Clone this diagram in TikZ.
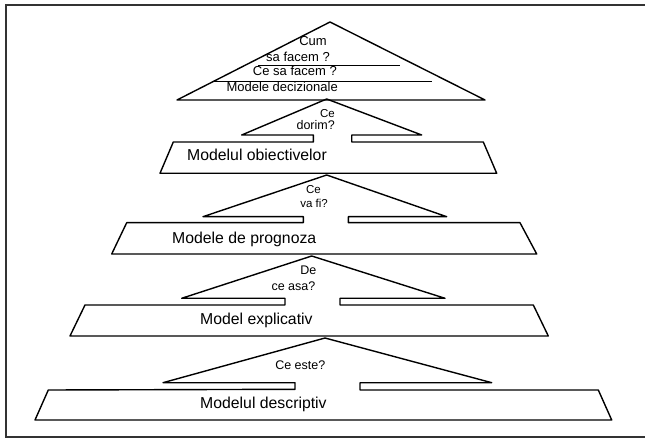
\documentclass[tikz,border=0pt]{standalone}
\usepackage{fontspec}
\setmainfont{Liberation Sans}
\begin{document}
\begin{tikzpicture}[x=1pt,y=-1pt,
  tier/.style={draw=black, line width=1.4pt, line join=round},
  frame/.style={draw=black!80, line width=1.9pt},
  lbl/.style={inner sep=0pt, font=\fontsize{15.8}{18}\selectfont, text=black},
  qs/.style={inner sep=0pt, font=\fontsize{12.5}{14}\selectfont, text=black},
  qsm/.style={inner sep=0pt, font=\fontsize{11.5}{13}\selectfont, text=black},
  tq/.style={inner sep=0pt, font=\fontsize{13}{14}\selectfont, text=black}]
\useasboundingbox (0,0) rectangle (645,443);
\draw[frame] (6,5) rectangle (670,437);

% tier 1: top triangle
\draw[tier] (177,100) -- (330,22) -- (485,100) -- cycle;
\draw[tier] (258,65.7) -- (400,65.7);
\draw[tier] (213,81.7) -- (432,81.7);
\node[tq, anchor=mid east] (t1a) at (327,43) {Cum};
\node[tq, anchor=mid east] (t1b) at (330,59) {sa facem ?};
\node[tq, anchor=mid east] (t1c) at (337,73) {Ce sa facem ?};
\node[tq, anchor=mid east] (t1d) at (338,89) {Modele decizionale};

% tier 2
\draw[tier] (313.3,142) -- (313.3,135) -- (241.7,135) -- (326.7,99) -- (421.7,135)
  -- (351.7,135) -- (351.7,142) -- (483.3,142) -- (496.7,173.3) -- (160,173.3)
  -- (173.3,142) -- cycle;
\node[qsm, anchor=mid east] (q2a) at (335,115) {Ce};
\node[qs, anchor=mid east] (q2b) at (335,127) {dorim?};
\node[lbl, anchor=mid west] (l2) at (187,158) {Modelul obiectivelor};

% tier 3
\draw[tier] (303.3,222.7) -- (303.3,216.7) -- (203,216.7) -- (326.7,175) -- (446.7,216.7)
  -- (348.3,216.7) -- (348.3,222.7) -- (520,222.7) -- (536.7,254) -- (111.7,254)
  -- (126.7,222.7) -- cycle;
\node[qsm] (q3a) at (313.5,190) {Ce};
\node[qsm] (q3b) at (314,203) {va fi?};
\node[lbl, anchor=mid west] (l3) at (172,240.7) {Modele de prognoza};

% tier 4
\draw[tier] (285,305) -- (285,298.3) -- (181.7,298.3) -- (311.7,256) -- (445,298.3)
  -- (340,298.3) -- (340,305) -- (533.3,305) -- (548.3,336) -- (70,336)
  -- (85,305) -- cycle;
\node[qs, anchor=mid east] (q4a) at (316.5,271.7) {De};
\node[qs, anchor=mid east] (q4b) at (315.5,288.3) {ce asa?};
\node[lbl, anchor=mid west] (l4) at (200,321.7) {Model explicativ};

% tier 5
\draw[tier] (295,389.3) -- (295,382.7) -- (163,382.7) -- (325,338) -- (491.7,382.7)
  -- (360,382.7) -- (360,390) -- (598.3,390) -- (611.7,420) -- (35,420)
  -- (48.3,390) -- cycle;
\node[qs, anchor=mid east] (q5) at (325.5,367) {Ce este?};
\node[lbl, anchor=mid west] (l5) at (200,406) {Modelul descriptiv};
\end{tikzpicture}
\end{document}
